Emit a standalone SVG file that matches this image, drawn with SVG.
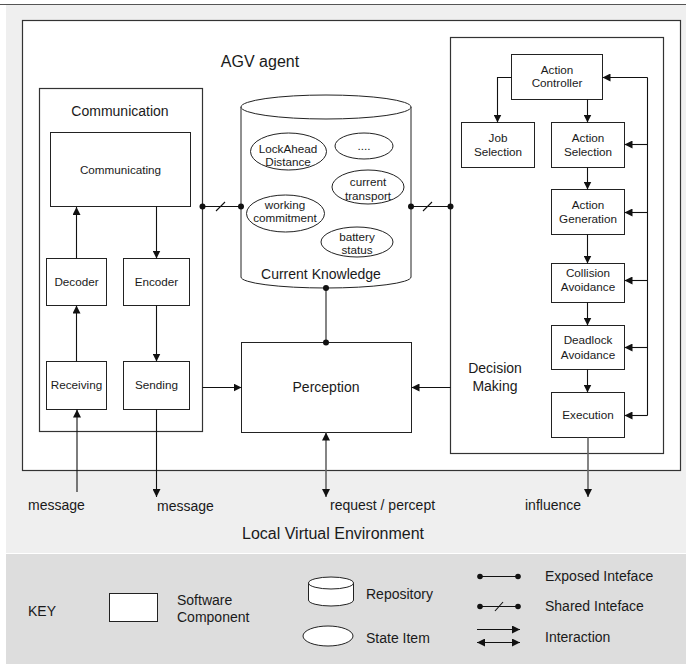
<svg xmlns="http://www.w3.org/2000/svg" width="686" height="664" viewBox="0 0 686 664">
  <defs>
    <style>
      .box { fill: #fff; stroke: #222; stroke-width: 1; }
      .cont { fill: #fff; stroke: #333; stroke-width: 1.2; }
      .t { font-family: "Liberation Sans", Arial, sans-serif; fill: #1a1a1a; text-anchor: middle; }
      .ts { font-size: 11.7px; }
      .tm { font-size: 14px; }
      .tl { font-size: 16px; }
      .st { text-anchor: start; }
      .ln { stroke: #111; stroke-width: 1.1; fill: none; }
      .gl { stroke: #666; stroke-width: 1.6; fill: none; }
      .dot { fill: #111; }
    </style>
    <marker id="arr" viewBox="0 0 10 10" refX="10" refY="5" markerUnits="userSpaceOnUse" markerWidth="8" markerHeight="8" orient="auto-start-reverse">
      <path d="M0,0 L10,5 L0,10 z" fill="#111"/>
    </marker>
  </defs>

  <!-- backgrounds -->
  <rect x="0" y="0" width="686" height="664" fill="#fff"/>
  <rect x="6" y="5" width="680" height="548" fill="#efefef"/>
  <rect x="6" y="554" width="680" height="110" fill="#dddddd"/>
  <line x1="0" y1="4.5" x2="686" y2="4.5" stroke="#555" stroke-width="1.2"/>

  <!-- agent boundary -->
  <g id="agv-agent">
    <rect class="cont" x="22.5" y="20.5" width="658" height="450"/>
    <text class="t tl" x="260" y="67">AGV agent</text>
  </g>

  <!-- communication module -->
  <g id="communication">
    <rect class="cont" x="39.5" y="88.5" width="163" height="343"/>
    <text class="t tm" x="120" y="116">Communication</text>
  </g>
  <g id="communicating">
    <rect class="box" x="50.5" y="132.5" width="140" height="74"/>
    <text class="t ts" x="120.5" y="174">Communicating</text>
  </g>
  <g id="decoder">
    <rect class="box" x="46.5" y="258.5" width="60" height="47"/>
    <text class="t ts" x="76.5" y="286">Decoder</text>
  </g>
  <g id="encoder">
    <rect class="box" x="123.5" y="258.5" width="66" height="47"/>
    <text class="t ts" x="156.5" y="286">Encoder</text>
  </g>
  <g id="receiving">
    <rect class="box" x="46.5" y="361.5" width="60" height="48"/>
    <text class="t ts" x="76.5" y="389">Receiving</text>
  </g>
  <g id="sending">
    <rect class="box" x="123.5" y="361.5" width="66" height="48"/>
    <text class="t ts" x="156.5" y="389">Sending</text>
  </g>

  <!-- knowledge repository -->
  <g id="current-knowledge">
    <path class="box" d="M241,107 L241,277 A85,11 0 0 0 411,277 L411,107"/>
    <ellipse class="box" cx="326" cy="107" rx="85" ry="12"/>
    <text class="t tm" x="321" y="279">Current Knowledge</text>
  </g>
  <g id="state-lockahead">
    <ellipse class="box" cx="288.5" cy="151.5" rx="38" ry="18.5"/>
    <text class="t ts" x="288" y="153">LockAhead</text>
    <text class="t ts" x="288" y="166">Distance</text>
  </g>
  <g id="state-more">
    <ellipse class="box" cx="364" cy="146" rx="29" ry="13"/>
    <text class="t ts" x="364" y="150">....</text>
  </g>
  <g id="state-transport">
    <ellipse class="box" cx="368" cy="187" rx="36" ry="17"/>
    <text class="t ts" x="368" y="186">current</text>
    <text class="t ts" x="368" y="200">transport</text>
  </g>
  <g id="state-commitment">
    <ellipse class="box" cx="285.5" cy="213.5" rx="39" ry="18.5"/>
    <text class="t ts" x="285" y="209">working</text>
    <text class="t ts" x="285" y="222">commitment</text>
  </g>
  <g id="state-battery">
    <ellipse class="box" cx="357" cy="242" rx="36" ry="15"/>
    <text class="t ts" x="357" y="241">battery</text>
    <text class="t ts" x="357" y="254">status</text>
  </g>

  <!-- perception -->
  <g id="perception">
    <rect class="box" x="241.5" y="342.5" width="170" height="90"/>
    <text class="t tm" x="326" y="392">Perception</text>
  </g>

  <!-- decision making module -->
  <g id="decision-making">
    <rect class="cont" x="450.5" y="37.5" width="213" height="416"/>
    <text class="t tm" x="495" y="373">Decision</text>
    <text class="t tm" x="495" y="391">Making</text>
  </g>
  <g id="action-controller">
    <rect class="box" x="511.5" y="54.5" width="91" height="45"/>
    <text class="t ts" x="557" y="74">Action</text>
    <text class="t ts" x="557" y="87">Controller</text>
  </g>
  <g id="job-selection">
    <rect class="box" x="461.5" y="122.5" width="73" height="45"/>
    <text class="t ts" x="498" y="142">Job</text>
    <text class="t ts" x="498" y="156">Selection</text>
  </g>
  <g id="action-selection">
    <rect class="box" x="551.5" y="122.5" width="73" height="45"/>
    <text class="t ts" x="588" y="142">Action</text>
    <text class="t ts" x="588" y="156">Selection</text>
  </g>
  <g id="action-generation">
    <rect class="box" x="551.5" y="189.5" width="73" height="45"/>
    <text class="t ts" x="588" y="209">Action</text>
    <text class="t ts" x="588" y="223">Generation</text>
  </g>
  <g id="collision-avoidance">
    <rect class="box" x="551.5" y="263.5" width="73" height="39"/>
    <text class="t ts" x="588" y="277">Collision</text>
    <text class="t ts" x="588" y="291">Avoidance</text>
  </g>
  <g id="deadlock-avoidance">
    <rect class="box" x="551.5" y="325.5" width="73" height="44"/>
    <text class="t ts" x="588" y="344">Deadlock</text>
    <text class="t ts" x="588" y="359">Avoidance</text>
  </g>
  <g id="execution">
    <rect class="box" x="551.5" y="392.5" width="73" height="45"/>
    <text class="t ts" x="588" y="419">Execution</text>
  </g>

  <!-- connectors -->
  <g id="connectors">
    <!-- communication internals -->
    <line class="ln" x1="76.5" y1="258.5" x2="76.5" y2="207" marker-end="url(#arr)"/>
    <line class="ln" x1="156.5" y1="206.5" x2="156.5" y2="258.5" marker-end="url(#arr)"/>
    <line class="ln" x1="76.5" y1="361.5" x2="76.5" y2="305.5" marker-end="url(#arr)"/>
    <line class="ln" x1="156.5" y1="305.5" x2="156.5" y2="361.5" marker-end="url(#arr)"/>

    <!-- shared interface: communication / knowledge -->
    <line class="ln" x1="202.5" y1="206.5" x2="241" y2="206.5"/>
    <line class="ln" x1="216" y1="211" x2="225" y2="202"/>
    <circle class="dot" cx="202.5" cy="206.5" r="3"/>
    <circle class="dot" cx="241" cy="206.5" r="3"/>

    <!-- shared interface: knowledge / decision making -->
    <line class="ln" x1="411" y1="206.5" x2="450.5" y2="206.5"/>
    <line class="ln" x1="423" y1="211" x2="432" y2="202"/>
    <circle class="dot" cx="411" cy="206.5" r="3"/>
    <circle class="dot" cx="450.5" cy="206.5" r="3"/>

    <!-- exposed interface: knowledge / perception -->
    <line class="gl" x1="326" y1="288" x2="326" y2="342.5"/>
    <circle class="dot" cx="326" cy="288" r="3"/>
    <circle class="dot" cx="326" cy="342.5" r="3"/>

    <!-- into perception -->
    <line class="ln" x1="202.5" y1="387.5" x2="241.5" y2="387.5" marker-end="url(#arr)"/>
    <line class="ln" x1="450.5" y1="387.5" x2="411.5" y2="387.5" marker-end="url(#arr)"/>

    <!-- environment links -->
    <line class="ln" x1="77" y1="492" x2="77" y2="409.5" marker-end="url(#arr)"/>
    <line class="ln" x1="156.5" y1="409.5" x2="156.5" y2="497" marker-end="url(#arr)"/>
    <line class="gl" x1="326" y1="432.5" x2="326" y2="497" marker-start="url(#arr)" marker-end="url(#arr)"/>
    <line class="gl" x1="588" y1="437.5" x2="588" y2="497" stroke="#444" marker-end="url(#arr)"/>

    <!-- decision chain -->
    <path class="ln" d="M511.5,77.5 H497.5 V122.5" marker-end="url(#arr)"/>
    <line class="ln" x1="587.5" y1="99.5" x2="587.5" y2="122.5" marker-end="url(#arr)"/>
    <line class="ln" x1="587.5" y1="167.5" x2="587.5" y2="189.5" marker-end="url(#arr)"/>
    <line class="ln" x1="587.5" y1="234.5" x2="587.5" y2="263.5" marker-end="url(#arr)"/>
    <line class="ln" x1="587.5" y1="302.5" x2="587.5" y2="325.5" marker-end="url(#arr)"/>
    <line class="ln" x1="587.5" y1="369.5" x2="587.5" y2="392.5" marker-end="url(#arr)"/>

    <!-- feedback bus -->
    <line class="ln" x1="647.5" y1="77.5" x2="647.5" y2="415.5"/>
    <line class="ln" x1="647.5" y1="77.5" x2="602.5" y2="77.5" marker-end="url(#arr)"/>
    <line class="ln" x1="647.5" y1="144.5" x2="624.5" y2="144.5" marker-end="url(#arr)"/>
    <line class="ln" x1="647.5" y1="212.5" x2="624.5" y2="212.5" marker-end="url(#arr)"/>
    <line class="ln" x1="647.5" y1="280.5" x2="624.5" y2="280.5" marker-end="url(#arr)"/>
    <line class="ln" x1="647.5" y1="347.5" x2="624.5" y2="347.5" marker-end="url(#arr)"/>
    <line class="ln" x1="647.5" y1="415.5" x2="624.5" y2="415.5" marker-end="url(#arr)"/>
  </g>

  <!-- environment labels -->
  <g id="environment">
    <text class="t tm st" x="28" y="510">message</text>
    <text class="t tm st" x="157" y="511">message</text>
    <text class="t tm st" x="330" y="510">request / percept</text>
    <text class="t tm st" x="525" y="510">influence</text>
    <text class="t tl st" x="242" y="539">Local Virtual Environment</text>
  </g>

  <!-- legend -->
  <g id="key">
    <text class="t tm st" x="28" y="616">KEY</text>
    <rect class="box" x="109.5" y="593.5" width="48" height="28"/>
    <text class="t tm st" x="177" y="605">Software</text>
    <text class="t tm st" x="177" y="622">Component</text>

    <path class="box" d="M308.5,583 L308.5,600 A22.5,6 0 0 0 353.5,600 L353.5,583"/>
    <ellipse class="box" cx="331" cy="583" rx="22.5" ry="6"/>
    <text class="t tm st" x="366" y="599">Repository</text>

    <ellipse class="box" cx="328" cy="636" rx="25" ry="10"/>
    <text class="t tm st" x="366" y="643">State Item</text>

    <line class="ln" x1="480" y1="576.5" x2="518" y2="576.5"/>
    <circle class="dot" cx="480" cy="576.5" r="2.8"/>
    <circle class="dot" cx="518" cy="576.5" r="2.8"/>
    <text class="t tm st" x="545" y="581">Exposed Inteface</text>

    <line class="ln" x1="480" y1="606.5" x2="518" y2="606.5"/>
    <line class="ln" x1="495" y1="611" x2="503" y2="602"/>
    <circle class="dot" cx="480" cy="606.5" r="2.8"/>
    <circle class="dot" cx="518" cy="606.5" r="2.8"/>
    <text class="t tm st" x="545" y="611">Shared Inteface</text>

    <line class="ln" x1="477" y1="629.5" x2="520" y2="629.5" marker-end="url(#arr)"/>
    <line class="ln" x1="477" y1="642.5" x2="520" y2="642.5" marker-start="url(#arr)" marker-end="url(#arr)"/>
    <text class="t tm st" x="545" y="642">Interaction</text>
  </g>
</svg>
